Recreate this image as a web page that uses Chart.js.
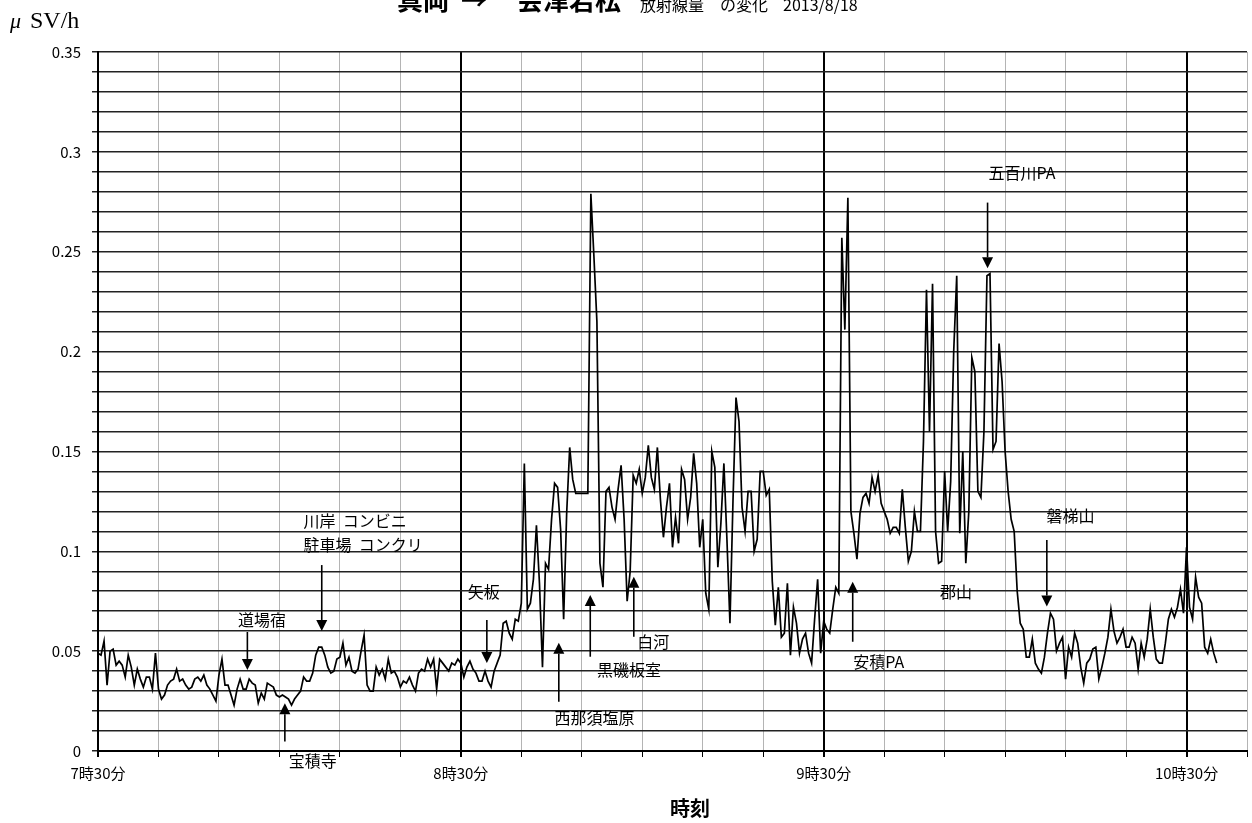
<!DOCTYPE html>
<html lang="ja">
<head>
<meta charset="utf-8">
<title>真岡 → 会津若松 放射線量の変化 2013/8/18</title>
<script src="https://cdn.jsdelivr.net/npm/chart.js@4.4.1/dist/chart.umd.min.js"></script>
<style>
  html, body { margin: 0; padding: 0; background: #fff; overflow: hidden; }
  #wrap { width: 1252px; height: 823px; overflow: hidden; }
  canvas { display: block; }
</style>
</head>
<body>
<div id="wrap"><canvas id="doseChart" width="1254" height="823"></canvas></div>
<script>
// ============================================
// Data (µSv/h, one reading every 30 s from 7:30)
// ============================================
const startHour = 7;
const startMinute = 30;
const sampleSeconds = 30;

const dose0730 = [
    0.049, 0.048, 0.055, 0.033, 0.050, 0.051, 0.043, 0.045, 0.043, 0.037,
    0.048, 0.042, 0.033, 0.041, 0.036, 0.032, 0.037, 0.037, 0.031, 0.049,
    0.031, 0.026, 0.028, 0.033, 0.035, 0.036, 0.041, 0.035, 0.036, 0.033,
    0.031, 0.032, 0.036, 0.037, 0.035, 0.038, 0.033, 0.031, 0.028, 0.025,
    0.038, 0.046, 0.033, 0.033, 0.028, 0.023, 0.031, 0.036, 0.031, 0.031,
    0.036, 0.034, 0.033, 0.024, 0.029, 0.026, 0.034, 0.033, 0.032, 0.028,
    0.027, 0.028, 0.027, 0.026, 0.023, 0.026, 0.028, 0.030, 0.037, 0.035,
    0.035, 0.039, 0.048, 0.052, 0.052, 0.048, 0.042, 0.039, 0.040, 0.046,
    0.047, 0.054, 0.043, 0.047, 0.040, 0.039, 0.041, 0.050, 0.058, 0.033,
    0.030, 0.030, 0.042, 0.038, 0.041, 0.036, 0.046, 0.039, 0.040, 0.037,
    0.032, 0.035, 0.034, 0.037, 0.033, 0.030, 0.039, 0.041, 0.040, 0.046,
    0.042, 0.046, 0.031, 0.046, 0.044, 0.042, 0.040, 0.044, 0.043, 0.046
];

const dose0830 = [
    0.044, 0.037, 0.042, 0.045, 0.041, 0.039, 0.035, 0.035, 0.040, 0.035,
    0.032, 0.040, 0.044, 0.048, 0.064, 0.065, 0.059, 0.056, 0.066, 0.065,
    0.074, 0.144, 0.071, 0.074, 0.086, 0.113, 0.084, 0.042, 0.094, 0.091,
    0.116, 0.134, 0.132, 0.111, 0.066, 0.119, 0.152, 0.136, 0.129, 0.129,
    0.129, 0.129, 0.129, 0.279, 0.248, 0.215, 0.094, 0.082, 0.130, 0.132,
    0.122, 0.116, 0.131, 0.143, 0.116, 0.075, 0.090, 0.138, 0.134, 0.141,
    0.129, 0.137, 0.153, 0.137, 0.131, 0.152, 0.126, 0.107, 0.122, 0.134,
    0.102, 0.117, 0.104, 0.141, 0.136, 0.116, 0.127, 0.149, 0.134, 0.102,
    0.116, 0.079, 0.071, 0.150, 0.142, 0.092, 0.114, 0.144, 0.106, 0.064,
    0.125, 0.177, 0.165, 0.122, 0.110, 0.130, 0.130, 0.100, 0.106, 0.140,
    0.140, 0.128, 0.131, 0.085, 0.063, 0.082, 0.057, 0.059, 0.084, 0.048,
    0.072, 0.064, 0.049, 0.056, 0.059, 0.049, 0.044, 0.066, 0.086, 0.049
];

const dose0930 = [
    0.065, 0.061, 0.059, 0.071, 0.082, 0.079, 0.257, 0.211, 0.277, 0.120,
    0.109, 0.096, 0.119, 0.127, 0.129, 0.124, 0.137, 0.130, 0.138, 0.124,
    0.120, 0.116, 0.109, 0.112, 0.112, 0.109, 0.131, 0.112, 0.095, 0.100,
    0.120, 0.110, 0.110, 0.155, 0.231, 0.160, 0.234, 0.110, 0.094, 0.095,
    0.140, 0.110, 0.135, 0.200, 0.238, 0.109, 0.150, 0.094, 0.120, 0.197,
    0.190, 0.130, 0.127, 0.160, 0.238, 0.239, 0.151, 0.155, 0.204, 0.185,
    0.150, 0.130, 0.116, 0.110, 0.080, 0.064, 0.061, 0.047, 0.047, 0.056,
    0.044, 0.041, 0.039, 0.047, 0.059, 0.069, 0.066, 0.050, 0.054, 0.057,
    0.036, 0.052, 0.047, 0.059, 0.054, 0.042, 0.034, 0.044, 0.046, 0.051,
    0.052, 0.036, 0.042, 0.049, 0.057, 0.071, 0.060, 0.054, 0.057, 0.061,
    0.052, 0.052, 0.057, 0.054, 0.041, 0.054, 0.047, 0.056, 0.071, 0.057,
    0.046, 0.044, 0.044, 0.054, 0.066, 0.071, 0.067, 0.072, 0.081, 0.069,
    0.102, 0.072, 0.066, 0.087, 0.077, 0.074, 0.052, 0.049, 0.056, 0.049,
    0.044
];

const xTickLabels = ['7時30分', '8時30分', '9時30分', '10時30分'];
const yTickLabels = ['0', '0.05', '0.1', '0.15', '0.2', '0.25', '0.3', '0.35'];

// place name notes: text centre (minutes, µSv/h), arrow x and from -> tip
const notes = [
    { lines: ['道場宿'], tx: 27.1, ty: 0.0656, arrow: [24.7, 0.0596, 0.0406] },
    { lines: ['宝積寺'], tx: 35.5, ty: -0.0050, arrow: [30.9, 0.0047, 0.0239] },
    { lines: ['川岸  コンビニ', '駐車場  コンクリ'], tx: 34.0, ty: 0.1152, left: true, arrow: [37.0, 0.0931, 0.0601] },
    { lines: ['矢板'], tx: 63.8, ty: 0.0796, arrow: [64.3, 0.0656, 0.0441] },
    { lines: ['西那須塩原'], tx: 82.1, ty: 0.0168, arrow: [76.2, 0.0247, 0.0542] },
    { lines: ['黒磯板室'], tx: 87.8, ty: 0.0406, arrow: [81.4, 0.0472, 0.0781] },
    { lines: ['白河'], tx: 91.8, ty: 0.0548, arrow: [88.6, 0.0572, 0.0873] },
    { lines: ['安積PA'], tx: 129.1, ty: 0.0448, arrow: [124.8, 0.0547, 0.0848] },
    { lines: ['郡山'], tx: 141.9, ty: 0.0799 },
    { lines: ['五百川PA'], tx: 152.8, ty: 0.2897, arrow: [147.1, 0.2746, 0.2417] },
    { lines: ['磐梯山'], tx: 160.8, ty: 0.1179, arrow: [156.9, 0.1057, 0.0723] }
];

const doseRate = dose0730.concat(dose0830, dose0930);
const points = doseRate.map((v, i) => ({ x: i * sampleSeconds / 60, y: v }));

const JP = '"Noto Sans CJK JP", "Noto Sans", sans-serif';

// ============================================
// Arrow helper
// ============================================
function drawArrow(ctx, px, y0, y1) {
    const dir = y1 > y0 ? 1 : -1;
    const head = 11;
    ctx.lineWidth = 1.6;
    ctx.beginPath();
    ctx.moveTo(px, y0);
    ctx.lineTo(px, y1 - dir * head);
    ctx.stroke();
    ctx.beginPath();
    ctx.moveTo(px, y1);
    ctx.lineTo(px - 5.5, y1 - dir * head);
    ctx.lineTo(px + 5.5, y1 - dir * head);
    ctx.closePath();
    ctx.fill();
}

// ============================================
// Title, unit, axis name and place notes
// ============================================
const overlayPlugin = {
    id: 'overlay',
    afterDraw(chart) {
        const { ctx } = chart;
        const x = chart.scales.x;
        const y = chart.scales.y;
        ctx.save();
        ctx.fillStyle = '#000';
        ctx.strokeStyle = '#000';

        // title (top of it is cut off in the original)
        ctx.textAlign = 'left';
        ctx.textBaseline = 'alphabetic';
        ctx.font = 'bold 26px ' + JP;
        ctx.fillText('真岡', 397, 10);
        ctx.fillText('→', 461, 10);
        ctx.fillText('会津若松', 517, 10);
        ctx.font = '16px ' + JP;
        ctx.fillText('放射線量', 640, 11);
        ctx.fillText('の変化', 720, 11);
        ctx.fillText('2013/8/18', 783, 11);

        // unit
        ctx.font = 'italic 22px "Liberation Serif", "DejaVu Serif", serif';
        ctx.fillText('μ', 10, 28);
        ctx.font = '24px "Liberation Serif", "DejaVu Serif", serif';
        ctx.fillText('SV/h', 30, 28);

        // x axis name
        ctx.textAlign = 'center';
        ctx.textBaseline = 'middle';
        ctx.font = 'bold 20px ' + JP;
        ctx.fillText('時刻', 690, 808);

        // notes
        ctx.font = '16px ' + JP;
        notes.forEach(n => {
            const px = x.getPixelForValue(n.tx);
            const py = y.getPixelForValue(n.ty);
            ctx.textAlign = n.left ? 'left' : 'center';
            n.lines.forEach((line, k) => ctx.fillText(line, px, py + k * 24));
            if (n.arrow) {
                const [ax, from, to] = n.arrow;
                drawArrow(ctx, x.getPixelForValue(ax), y.getPixelForValue(from), y.getPixelForValue(to));
            }
        });
        ctx.restore();
    }
};

// ============================================
// Chart
// ============================================
new Chart(document.getElementById('doseChart'), {
    type: 'line',
    data: {
        datasets: [{
            data: points,
            borderColor: '#000',
            borderWidth: 1.7,
            pointRadius: 0,
            tension: 0,
            fill: false
        }]
    },
    options: {
        responsive: false,
        animation: false,
        devicePixelRatio: 1,
        layout: { padding: { top: 52, right: 0, left: 0, bottom: 0 } },
        plugins: {
            legend: { display: false },
            title: { display: false },
            tooltip: { enabled: false }
        },
        scales: {
            x: {
                type: 'linear',
                min: 0,
                max: 190,
                afterFit: scale => { scale.height = 72; },
                border: { display: true, color: '#000', width: 2 },
                grid: {
                    color: ctx => (ctx.tick && ctx.tick.value % 60 === 0) ? '#000' : '#b4b4b4',
                    lineWidth: ctx => (ctx.tick && ctx.tick.value % 60 === 0) ? 2 : 1,
                    tickLength: 6,
                    tickColor: '#000'
                },
                ticks: {
                    stepSize: 10,
                    autoSkip: false,
                    maxRotation: 0,
                    padding: 7,
                    color: '#000',
                    font: { family: JP, size: 15 },
                    callback: value => value % 60 === 0 ? xTickLabels[value / 60] : ''
                }
            },
            y: {
                min: 0,
                max: 0.35,
                afterFit: scale => { scale.width = 98; },
                border: { display: true, color: '#000', width: 2 },
                grid: {
                    color: '#222',
                    lineWidth: 1.5,
                    tickLength: 6,
                    tickColor: '#222'
                },
                ticks: {
                    stepSize: 0.01,
                    autoSkip: false,
                    padding: 11,
                    color: '#000',
                    font: { family: JP, size: 15 },
                    callback: value => {
                        const k = Math.round(value * 100);
                        return k % 5 === 0 ? yTickLabels[k / 5] : '';
                    }
                }
            }
        }
    },
    plugins: [overlayPlugin]
});
</script>
</body>
</html>
